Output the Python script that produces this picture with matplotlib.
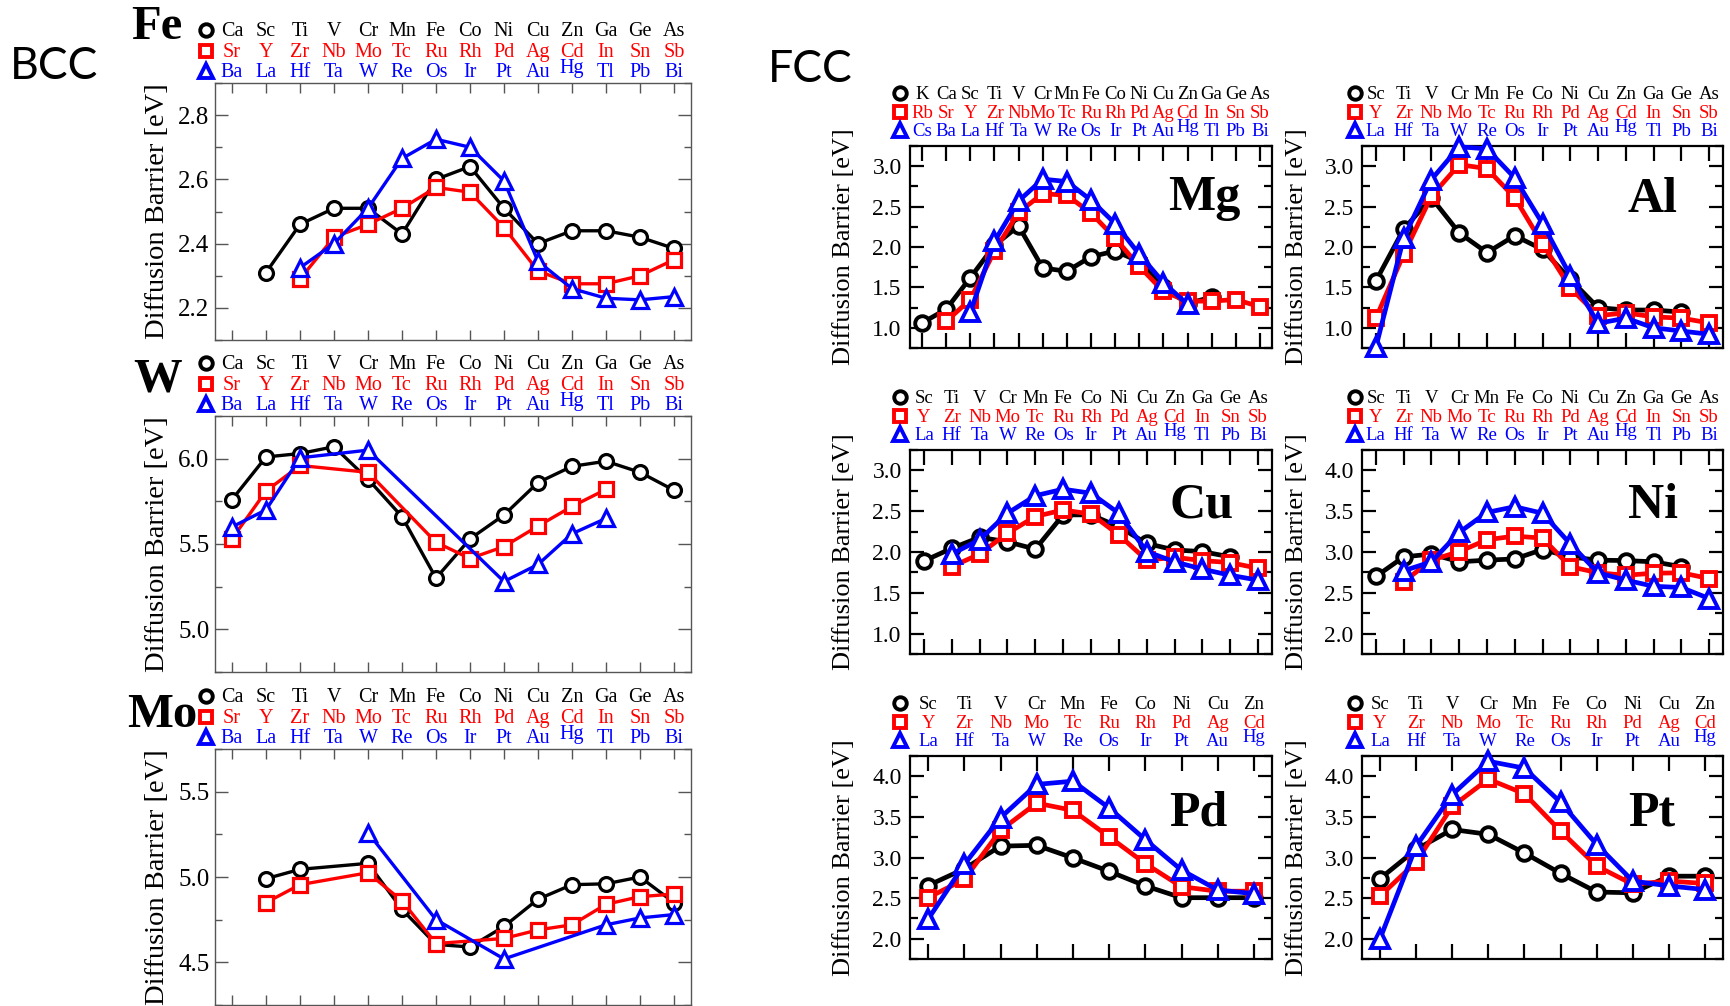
import numpy as np
import matplotlib
matplotlib.use("Agg")
import matplotlib.pyplot as plt
from matplotlib.lines import Line2D
from matplotlib.transforms import blended_transform_factory
from matplotlib.ticker import MultipleLocator, FormatStrFormatter, FixedLocator

plt.rcParams['font.family'] = ['Liberation Serif', 'DejaVu Serif']

nan = np.nan

# ---------------- element labels ----------------
row4 = ["Ca", "Sc", "Ti", "V", "Cr", "Mn", "Fe", "Co", "Ni", "Cu", "Zn", "Ga", "Ge", "As"]
row5 = ["Sr", "Y", "Zr", "Nb", "Mo", "Tc", "Ru", "Rh", "Pd", "Ag", "Cd", "In", "Sn", "Sb"]
row6 = ["Ba", "La", "Hf", "Ta", "W", "Re", "Os", "Ir", "Pt", "Au", "Hg", "Tl", "Pb", "Bi"]

mg_row4 = ["K"] + row4
mg_row5 = ["Rb"] + row5
mg_row6 = ["Cs"] + row6

mid_row4 = row4[1:]
mid_row5 = row5[1:]
mid_row6 = row6[1:]

short_row4 = row4[1:11]
short_row5 = row5[1:11]
short_row6 = row6[1:11]

# ---------------- diffusion barriers [eV] ----------------
# BCC hosts (columns Ca..As)
fe_3d = [nan, 2.31, 2.46, 2.51, 2.51, 2.43, 2.60, 2.64, 2.51, 2.40, 2.44, 2.44, 2.42, 2.385]
fe_4d = [nan, nan, 2.29, 2.42, 2.46, 2.51, 2.575, 2.56, 2.45, 2.315, 2.275, 2.275, 2.30, 2.35]
fe_5d = [nan, nan, 2.325, 2.40, 2.51, 2.665, 2.725, 2.70, 2.595, 2.345, 2.26, 2.23, 2.225, 2.235]

w_3d = [5.76, 6.01, 6.03, 6.07, 5.88, 5.66, 5.30, 5.53, 5.67, 5.86, 5.955, 5.985, 5.92, 5.815]
w_4d = [5.53, 5.81, 5.96, nan, 5.92, nan, 5.51, 5.415, 5.485, 5.605, 5.72, 5.82, nan, nan]
w_5d = [5.60, 5.70, 6.005, nan, 6.05, nan, nan, nan, 5.28, 5.38, 5.56, 5.65, nan, nan]

mo_3d = [nan, 4.99, 5.045, nan, 5.08, 4.81, 4.605, 4.59, 4.71, 4.87, 4.955, 4.96, 5.00, 4.85]
mo_4d = [nan, 4.85, 4.955, nan, 5.025, 4.86, 4.61, nan, 4.64, 4.69, 4.72, 4.84, 4.885, 4.90]
mo_5d = [nan, nan, nan, nan, 5.26, nan, 4.75, nan, 4.52, nan, nan, 4.72, 4.76, 4.78]

# FCC hosts
mg_3d = [1.06, 1.23, 1.62, 2.02, 2.26, 1.74, 1.70, 1.88, 1.95, 1.82, 1.50, 1.30, 1.38, nan, nan]
mg_4d = [nan, 1.08, 1.35, 1.95, 2.43, 2.66, 2.64, 2.42, 2.11, 1.76, 1.45, 1.33, 1.33, 1.35, 1.26]
mg_5d = [nan, nan, 1.19, 2.07, 2.57, 2.84, 2.81, 2.58, 2.29, 1.91, 1.56, 1.29, nan, nan, nan]

al_3d = [1.58, 2.22, 2.61, 2.175, 1.93, 2.14, 1.97, 1.60, 1.25, 1.22, 1.22, 1.195, nan]
al_4d = [1.12, 1.91, 2.63, 3.02, 2.97, 2.61, 2.04, 1.495, 1.15, 1.185, 1.135, 1.12, 1.06]
al_5d = [0.76, 2.11, 2.835, 3.24, 3.215, 2.855, 2.29, 1.645, 1.055, 1.12, 1.00, 0.96, 0.92]

cu_3d = [1.89, 2.045, 2.18, 2.125, 2.035, 2.455, 2.455, 2.31, 2.105, 2.025, 2.005, 1.94, nan]
cu_4d = [nan, 1.82, 1.975, 2.23, 2.435, 2.515, 2.465, 2.21, 1.90, 1.935, 1.895, 1.87, 1.80]
cu_5d = [nan, 1.975, 2.15, 2.475, 2.69, 2.77, 2.72, 2.475, 2.005, 1.88, 1.79, 1.715, 1.655]

ni_3d = [2.70, 2.94, 2.975, 2.88, 2.90, 2.915, 3.03, 2.94, 2.90, 2.895, 2.88, 2.82, nan]
ni_4d = [nan, 2.635, 2.90, 3.005, 3.15, 3.195, 3.17, 2.82, 2.745, 2.715, 2.74, 2.745, 2.675]
ni_5d = [nan, 2.77, 2.88, 3.24, 3.485, 3.555, 3.475, 3.10, 2.745, 2.655, 2.58, 2.565, 2.43]

pd_3d = [2.655, 2.86, 3.14, 3.15, 2.995, 2.83, 2.65, 2.505, 2.505, 2.505]
pd_4d = [2.505, 2.73, 3.335, 3.67, 3.58, 3.255, 2.925, 2.64, 2.585, 2.585]
pd_5d = [2.24, 2.915, 3.49, 3.90, 3.94, 3.61, 3.22, 2.845, 2.60, 2.555]

pt_3d = [2.74, 3.10, 3.345, 3.285, 3.055, 2.805, 2.575, 2.565, 2.77, 2.77]
pt_4d = [2.525, 2.945, 3.63, 3.965, 3.785, 3.325, 2.895, 2.67, 2.71, 2.68]
pt_5d = [2.00, 3.14, 3.775, 4.185, 4.10, 3.68, 3.16, 2.71, 2.65, 2.605]

SERIES_COLORS = ["#000000", "#ff0000", "#0000ff"]
SERIES_MARKERS = ["o", "s", "^"]

W, H = 1730, 1006
fig = plt.figure(figsize=(W / 100, H / 100), dpi=100)


def rect(l, t, r, b):
    return [l / W, 1 - b / H, (r - l) / W, (b - t) / H]


def panel(box, rows, series, ylim, major, minor, style):
    ax = fig.add_axes(rect(*box))
    n = len(rows[0])
    idx = np.arange(n)
    for vals, c, m in zip(series, SERIES_COLORS, SERIES_MARKERS):
        v = np.asarray(vals, float)
        ok = ~np.isnan(v)
        ms = style['ms'] + (style['tri_extra'] if m == '^' else 0)
        if m == 's':
            ms -= 0.5
        ax.plot(idx[ok], v[ok], color=c, lw=style['lw'], marker=m, ms=ms,
                mew=style['mew'], mfc='white', mec=c, clip_on=False, zorder=3)
    ax.set_xlim(-0.5, n - 0.5)
    ax.set_ylim(*ylim)
    ax.xaxis.set_major_locator(FixedLocator(idx))
    ax.yaxis.set_major_locator(MultipleLocator(major))
    ax.yaxis.set_minor_locator(MultipleLocator(minor))
    ax.yaxis.set_major_formatter(FormatStrFormatter('%.1f'))
    for sp in ax.spines.values():
        sp.set_color(style['frame'])
        sp.set_linewidth(style['frame_lw'])
    ax.tick_params(axis='x', which='major', direction='in', top=True, bottom=True,
                   labelbottom=False, length=style['xtick'], width=style['tick_w'],
                   color=style['frame'])
    ax.tick_params(axis='y', which='major', direction='in', left=True, right=True,
                   length=style['ytick'], width=style['tick_w'], color=style['frame'],
                   labelsize=style['ticklabel'], pad=style['pad'])
    ax.tick_params(axis='y', which='minor', direction='in', left=True, right=True,
                   length=style['ytick_minor'], width=style['tick_w'], color=style['frame'])
    ax.set_ylabel('Diffusion Barrier [eV]', fontsize=style['ylabel'])
    ax.yaxis.set_label_coords(style['ylabel_x'] / (box[2] - box[0]), 0.5)

    # element header rows above the frame
    top = box[1]
    trans = blended_transform_factory(ax.transData, fig.transFigure)
    for r, (labels, c, m) in enumerate(zip(rows, SERIES_COLORS, SERIES_MARKERS)):
        base = top - style['row_off'][r]
        for i, lab in enumerate(labels):
            y = base - (4 if lab == 'Hg' else 0)
            ax.text(i, 1 - y / H, lab, transform=trans, ha='center', va='baseline',
                    color=c, fontsize=style['header'], clip_on=False)
        mx = box[0] - style['mark_dx']
        my = base - 6
        fig.add_artist(Line2D([mx / W], [1 - my / H], transform=fig.transFigure,
                              marker=m, ms=style['hms'] + (1.5 if m == '^' else 0),
                              mew=2.8, mfc='white', mec=c, ls='none'))
    return ax


bcc_style = dict(lw=2.4, ms=10, mew=2.3, tri_extra=1.0, frame='#555555', frame_lw=1.0,
                 tick_w=1.0, xtick=7.5, ytick=9.5, ytick_minor=5, ticklabel=18, pad=4,
                 ylabel=20.5, ylabel_x=-45, header=14.5, row_off=(47, 26, 6),
                 mark_dx=9, hms=9)
fcc_style_l = dict(lw=3.4, ms=10.5, mew=2.8, tri_extra=2.0, frame='#000000', frame_lw=1.6,
                   tick_w=1.6, xtick=11, ytick=10, ytick_minor=6, ticklabel=17, pad=6,
                   ylabel=19, ylabel_x=-55, header=13.5, row_off=(47, 28, 10),
                   mark_dx=10, hms=9)
fcc_style_r = dict(fcc_style_l, ylabel_x=-54, mark_dx=7)

# BCC column
panel((215, 83, 691, 340), (row4, row5, row6), (fe_3d, fe_4d, fe_5d),
      (2.1, 2.9), 0.2, 0.1, bcc_style)
panel((215, 416, 691, 672), (row4, row5, row6), (w_3d, w_4d, w_5d),
      (4.75, 6.25), 0.5, 0.25, bcc_style)
panel((215, 749, 691, 1005), (row4, row5, row6), (mo_3d, mo_4d, mo_5d),
      (4.25, 5.75), 0.5, 0.25, bcc_style)

# FCC grid
panel((910, 146, 1272, 348), (mg_row4, mg_row5, mg_row6), (mg_3d, mg_4d, mg_5d),
      (0.75, 3.25), 0.5, 0.25, fcc_style_l)
panel((1362, 146, 1723, 348), (mid_row4, mid_row5, mid_row6), (al_3d, al_4d, al_5d),
      (0.75, 3.25), 0.5, 0.25, fcc_style_r)
panel((910, 450, 1272, 654), (mid_row4, mid_row5, mid_row6), (cu_3d, cu_4d, cu_5d),
      (0.75, 3.25), 0.5, 0.25, fcc_style_l)
panel((1362, 450, 1723, 654), (mid_row4, mid_row5, mid_row6), (ni_3d, ni_4d, ni_5d),
      (1.75, 4.25), 0.5, 0.25, fcc_style_r)
panel((910, 756, 1272, 959), (short_row4, short_row5, short_row6), (pd_3d, pd_4d, pd_5d),
      (1.75, 4.25), 0.5, 0.25, fcc_style_l)
panel((1362, 756, 1723, 959), (short_row4, short_row5, short_row6), (pt_3d, pt_4d, pt_5d),
      (1.75, 4.25), 0.5, 0.25, fcc_style_r)

# host element names
for name, x, y in [("Fe", 131, 39), ("W", 133, 392), ("Mo", 127, 727)]:
    fig.text(x / W, 1 - y / H, name, fontsize=35, fontweight='bold',
             ha='left', va='baseline')
for name, x, y in [("Mg", 1168, 210), ("Al", 1628, 212), ("Cu", 1170, 518),
                   ("Ni", 1628, 518), ("Pd", 1169, 825), ("Pt", 1628, 825)]:
    fig.text(x / W, 1 - y / H, name, fontsize=36, fontweight='bold',
             ha='left', va='baseline')

# lattice titles
fig.text(10 / W, 1 - 79 / H, "BCC", fontsize=32, family=['Lato', 'DejaVu Sans'],
         ha='left', va='baseline')
fig.text(768 / W, 1 - 82 / H, "FCC", fontsize=32, family=['Lato', 'DejaVu Sans'],
         ha='left', va='baseline')

fig.savefig("out.png", dpi=100)
